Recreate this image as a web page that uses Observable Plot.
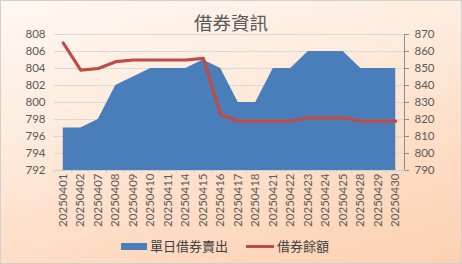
<!DOCTYPE html>
<html><head><meta charset="utf-8">
<script src="https://cdn.jsdelivr.net/npm/d3@7"></script>
<script src="https://cdn.jsdelivr.net/npm/@observablehq/plot@0.6"></script>
<style>
html,body{margin:0;padding:0;}
#wrap{position:relative;width:460px;height:262px;border:1px solid #d0d0d0;
  background:linear-gradient(165deg,#fff8f2 0%,#feecde 35%,#fddcc4 70%,#fcd1b2 100%);
  font-family:Lato,"Noto Sans CJK TC",sans-serif;overflow:hidden;}
#title{height:25px;text-align:center;font:18.5px "Noto Sans CJK TC";color:#595959;line-height:42px;}
#legend{position:absolute;left:0;top:236px;width:460px;height:20px;font:13px "Noto Sans CJK TC";color:#404040;}
.sw{position:absolute;}
</style></head>
<body><div id="wrap">
<div id="title">借券資訊</div>
<div id="chart"></div>
<div id="legend"></div>
</div>
<script>
const dates = ["20250401","20250402","20250407","20250408","20250409","20250410","20250411","20250414","20250415","20250416","20250417","20250418","20250421","20250422","20250423","20250424","20250425","20250428","20250429","20250430"];
const dailyShortSell = [797,797,798,802,803,804,804,804,805,804,800,800,804,804,806,806,806,804,804,804];
const balance = [865,849,850,854,855,855,855,855,856,823,819,819,819,819,821,821,821,819,819,819];
const leftTicks = [792,794,796,798,800,802,804,806,808];
const rightTicks = [790,800,810,820,830,840,850,860,870];
const seriesNames = ["單日借券賣出","借券餘額"];

// map right-axis values onto left scale
const toLeft = v => 792 + (v - 790) * 16 / 80;
const areaData = dates.map((d,i)=>({d, v: dailyShortSell[i]}));
const lineData = dates.map((d,i)=>({d, v: toLeft(balance[i])}));

const blue = "#4a7ebb", red = "#be4b48", txt = "#595959";
const plot = Plot.plot({
  width: 460, height: 206,
  marginTop: 8, marginLeft: 53, marginRight: 57, marginBottom: 62,
  style: {background: "transparent", fontFamily: "Lato, sans-serif", fontSize: "11.5px", color: txt},
  x: {type: "point", domain: dates, padding: 0.5, round: false, label: null},
  y: {domain: [792, 808], label: null},
  marks: [
    Plot.gridY(leftTicks, {stroke: "#d9d9d9", strokeOpacity: 1, strokeWidth: 1}),
    Plot.areaY(areaData, {x: "d", y1: 792, y2: "v", fill: blue, fillOpacity: 1, curve: "linear"}),
    Plot.lineY(lineData, {x: "d", y: "v", stroke: red, strokeWidth: 3.2, curve: "linear"}),
    Plot.ruleY([792], {stroke: "#d0d0d0"}),
    Plot.axisY(leftTicks, {anchor: "left", tickSize: 0, tickPadding: 9, fill: txt, label: null}),
    Plot.axisY(leftTicks, {anchor: "right", tickSize: 4, tickPadding: 6, stroke: "#8c8c8c", fill: txt,
      tickFormat: t => String(rightTicks[leftTicks.indexOf(t)]), label: null}),
    Plot.axisX({tickRotate: -90, tickSize: 0, tickPadding: 3, fill: txt, label: null, fontSize: 11.5})
  ]
});
document.getElementById("chart").appendChild(plot);
const svg = d3.select(plot);
const xs = plot.scale("x");
const step = xs.step !== undefined ? xs.step : 17.5;
const yBottom = 206 - 62;
// right axis vertical line
svg.append("line").attr("x1", 460-57+0.5).attr("x2", 460-57+0.5).attr("y1", 8).attr("y2", yBottom)
  .attr("stroke", "#8c8c8c");
// category boundary ticks on x axis
const bounds = dates.map(d => xs.apply(d) - step/2).concat([xs.apply(dates[dates.length-1]) + step/2]);
svg.append("g").selectAll("line").data(bounds).join("line")
  .attr("x1", d => d).attr("x2", d => d).attr("y1", yBottom).attr("y2", yBottom + 3)
  .attr("stroke", "#d0d0d0");

const lg = document.getElementById("legend");
lg.innerHTML = `<div class="sw" style="left:120px;top:6px;width:26px;height:7px;background:${blue}"></div>
<div class="sw" style="left:149px;top:-1px;">${seriesNames[0]}</div>
<div class="sw" style="left:245px;top:8px;width:28px;height:3px;background:${red}"></div>
<div class="sw" style="left:276px;top:-1px;">${seriesNames[1]}</div>`;
</script>
</body></html>
